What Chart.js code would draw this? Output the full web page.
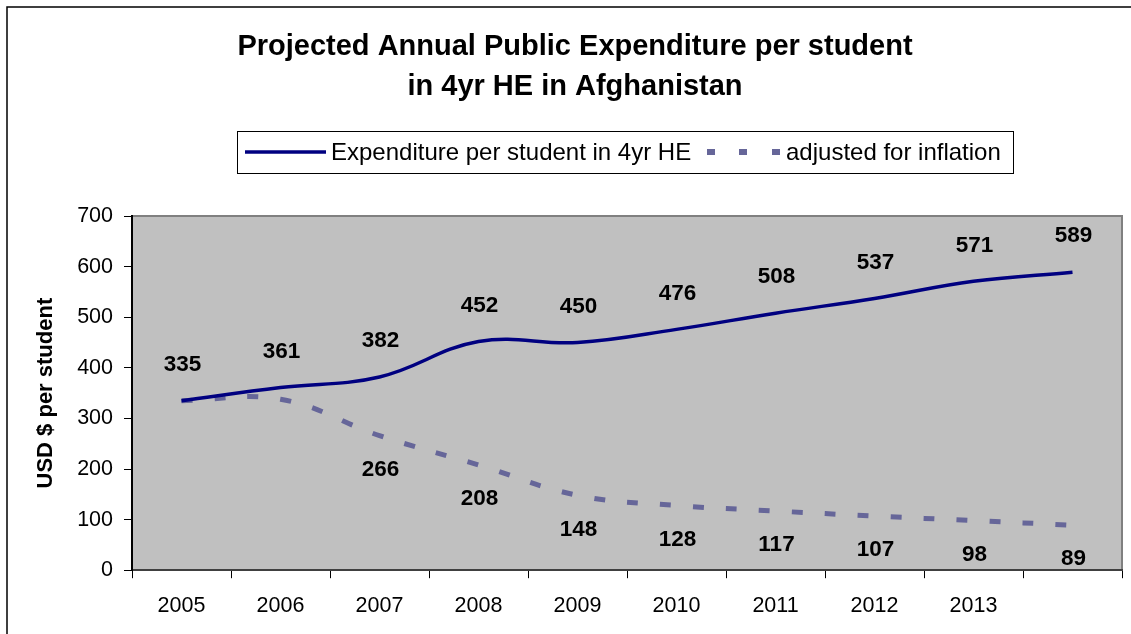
<!DOCTYPE html>
<html>
<head>
<meta charset="utf-8">
<script src="https://cdn.jsdelivr.net/npm/chart.js@4/dist/chart.umd.min.js"></script>
<style>
  html, body { margin: 0; padding: 0; background: #fff; }
  #wrap { position: relative; width: 1131px; height: 634px; }
</style>
</head>
<body>
<div id="wrap"><canvas id="myChart"></canvas></div>
<script>
// chart data
const years = ['2005', '2006', '2007', '2008', '2009', '2010', '2011', '2012', '2013', ''];
const expenditure = [335, 361, 382, 452, 450, 476, 508, 537, 571, 589];
const adjusted = [335, 338, 266, 208, 148, 128, 117, 107, 98, 89];
const yTicks = [0, 100, 200, 300, 400, 500, 600, 700];
const seriesNames = ['Expenditure per student in 4yr HE', 'adjusted for inflation'];

const FONT = "'Liberation Sans', Arial, sans-serif";

// gray plot area + frame round the whole picture
const plotBg = {
  id: 'plotBg',
  beforeDraw(chart) {
    const {ctx, chartArea: a} = chart;
    ctx.save();
    ctx.fillStyle = '#fff';
    ctx.fillRect(0, 0, chart.width, chart.height);
    ctx.fillStyle = '#c0c0c0';
    ctx.fillRect(a.left, a.top, a.right - a.left, a.bottom - a.top);
    ctx.strokeStyle = '#808080';
    ctx.lineWidth = 2;
    ctx.beginPath();
    ctx.moveTo(a.left, a.top);
    ctx.lineTo(a.right, a.top);
    ctx.lineTo(a.right, a.bottom);
    ctx.stroke();
    ctx.strokeStyle = '#000';
    ctx.lineWidth = 1.5;
    ctx.beginPath();
    ctx.moveTo(7, chart.height);
    ctx.lineTo(7, 7);
    ctx.lineTo(chart.width, 7);
    ctx.stroke();
    ctx.restore();
  }
};

// value labels: above the solid line, below the dashed one
const valueLabels = {
  id: 'valueLabels',
  afterDatasetsDraw(chart) {
    const {ctx} = chart;
    ctx.save();
    ctx.font = 'bold 22.5px ' + FONT;
    ctx.fillStyle = '#000';
    ctx.textAlign = 'center';
    ctx.textBaseline = 'middle';
    chart.getDatasetMeta(0).data.forEach((p, i) => {
      ctx.fillText(String(expenditure[i]), p.x + 1, p.y - 36);
    });
    chart.getDatasetMeta(1).data.forEach((p, i) => {
      if (i < 2) return;
      ctx.fillText(String(adjusted[i]), p.x + 1, p.y + 34);
    });
    ctx.restore();
  }
};

// boxed legend like the original
const boxLegend = {
  id: 'boxLegend',
  afterDraw(chart) {
    const {ctx} = chart;
    const ds = chart.data.datasets;
    ctx.save();
    ctx.strokeStyle = '#000';
    ctx.lineWidth = 1;
    ctx.strokeRect(237.5, 131.5, 776, 42);
    const y = 152;
    ctx.font = '24px ' + FONT;
    ctx.fillStyle = '#000';
    ctx.textBaseline = 'middle';
    ctx.textAlign = 'left';
    // solid
    ctx.strokeStyle = ds[0].borderColor;
    ctx.lineWidth = 3.5;
    ctx.beginPath();
    ctx.moveTo(245, y);
    ctx.lineTo(326, y);
    ctx.stroke();
    ctx.fillText(ds[0].label, 331, y + 1);
    // dashed
    ctx.fillStyle = ds[1].borderColor;
    [707, 739, 772].forEach(x => ctx.fillRect(x, y - 3, 8, 6));
    ctx.fillStyle = '#000';
    ctx.fillText(ds[1].label, 786, y + 1);
    ctx.restore();
  }
};

const chartRef = document.getElementById('myChart').getContext('2d');
new Chart(chartRef, {
  type: 'line',
  data: {
    labels: years,
    datasets: [
      {
        label: seriesNames[0],
        data: expenditure,
        borderColor: '#000080',
        borderWidth: 3.5,
        pointRadius: 0,
        tension: 0.4,
        fill: false
      },
      {
        label: seriesNames[1],
        data: adjusted,
        borderColor: '#666699',
        borderWidth: 5,
        borderDash: [11, 22],
        borderCapStyle: 'butt',
        pointRadius: 0,
        tension: 0.4,
        fill: false
      }
    ]
  },
  options: {
    responsive: true,
    maintainAspectRatio: false,
    animation: false,
    layout: { padding: { left: 28, right: 9, top: 0, bottom: 0 } },
    plugins: {
      legend: { display: false },
      tooltip: { enabled: false },
      title: {
        display: true,
        text: ['Projected Annual Public Expenditure per student', 'in 4yr HE in Afghanistan'],
        color: '#000',
        font: { family: FONT, size: 29, weight: 'bold', lineHeight: 1.38 },
        padding: { top: 27, bottom: 109 }
      }
    },
    scales: {
      x: {
        offset: true,
        border: { color: '#404040', width: 2 },
        grid: { offset: true, drawOnChartArea: false, color: '#000', tickLength: 8 },
        ticks: {
          color: '#000',
          padding: 15,
          maxRotation: 0,
          autoSkip: false,
          font: { family: FONT, size: 21.5 }
        }
      },
      y: {
        min: 0,
        max: 700,
        afterFit(scale) { scale.width = 104; },
        afterBuildTicks(scale) { scale.ticks = yTicks.map(v => ({ value: v })); },
        border: { color: '#000', width: 2 },
        grid: { drawOnChartArea: false, color: '#000', tickLength: 8 },
        ticks: {
          color: '#000',
          padding: 11,
          font: { family: FONT, size: 21.5 }
        },
        title: {
          display: true,
          text: 'USD $ per student',
          color: '#000',
          font: { family: FONT, size: 22, weight: 'bold' },
          padding: { top: 5, bottom: 0 }
        }
      }
    }
  },
  plugins: [plotBg, valueLabels, boxLegend]
});
</script>
</body>
</html>
